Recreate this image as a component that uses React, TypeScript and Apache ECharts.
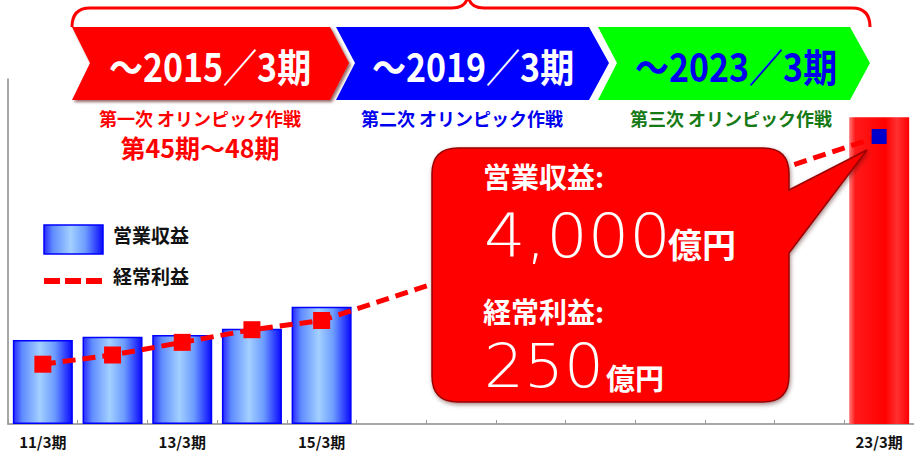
import React, { useEffect, useRef } from "react";
import * as echarts from "echarts";

// ---- data ----
const categories = [
  "11/3期", "12/3期", "13/3期", "14/3期", "15/3期", "16/3期", "17/3期",
  "18/3期", "19/3期", "20/3期", "21/3期", "22/3期", "23/3期",
];
const shownLabels = ["11/3期", "13/3期", "15/3期", "23/3期"];
// 営業収益 (億円)
const revenue: (number | null)[] = [1096, 1139, 1161, 1243, 1530, null, null, null, null, null, null, null, 4000];
// 経常利益 (億円)
const ordinaryProfit: (number | null)[] = [52, 60, 71, 82, 90, null, null, null, null, null, null, null, 250];
const seriesNames = ["営業収益", "経常利益"];
const periodTitles = ["～2015／3期", "～2019／3期", "～2023／3期"];
const periodSubtitles = ["第一次 オリンピック作戦", "第二次 オリンピック作戦", "第三次 オリンピック作戦"];
const firstPeriodNote = "第45期～48期";
const calloutRevenueLabel = "営業収益:";
const calloutRevenueValue = "4,000";
const calloutProfitLabel = "経常利益:";
const calloutProfitValue = "250";
const unitLabel = "億円";

const CJK = '"Noto Sans CJK JP", "Noto Sans", sans-serif';

let shapesRegistered = false;
function registerShapes() {
  if (shapesRegistered) return;
  shapesRegistered = true;
  const x0 = 432, y0 = 148, x1 = 789, y1 = 402, r = 26;
  const callout =
    `M ${x0 + r} ${y0} L ${x1 - r} ${y0} Q ${x1} ${y0} ${x1} ${y0 + r} L ${x1} 190 L 867 150 L ${x1} 253 ` +
    `L ${x1} ${y1 - r} Q ${x1} ${y1} ${x1 - r} ${y1} L ${x0 + r} ${y1} Q ${x0} ${y1} ${x0} ${y1 - r} ` +
    `L ${x0} ${y0 + r} Q ${x0} ${y0} ${x0 + r} ${y0} Z`;
  echarts.graphic.registerShape("callout", echarts.graphic.extendPath(callout, {}) as any);
  const brace =
    "M 72 27 Q 72 8 90 8 L 452 8 Q 466 8 468 -4 Q 470 8 484 8 L 852 8 Q 870 8 870 27";
  echarts.graphic.registerShape("brace", echarts.graphic.extendPath(brace, {}) as any);
}

function blueGradient() {
  return new echarts.graphic.LinearGradient(0, 0, 1, 0, [
    { offset: 0, color: "#2a2aff" },
    { offset: 0.15, color: "#5f8cff" },
    { offset: 0.45, color: "#a3d0ff" },
    { offset: 0.7, color: "#6c9cff" },
    { offset: 1, color: "#0a0aff" },
  ]);
}

export default function App() {
  const ref = useRef<HTMLDivElement>(null);

  useEffect(() => {
    if (!ref.current) return;
    registerShapes();
    const chart = echarts.init(ref.current, null, { renderer: "svg" });
    const last = categories.length - 1;

    const barData = revenue.map((v, i) =>
      i === last
        ? {
            value: v,
            itemStyle: {
              color: new echarts.graphic.LinearGradient(0, 0, 1, 0, [
                { offset: 0, color: "#ff7a7a" },
                { offset: 0.1, color: "#ff1a1a" },
                { offset: 0.6, color: "#ff0000" },
                { offset: 0.8, color: "#ff3030" },
                { offset: 1, color: "#ff0000" },
              ]),
              borderWidth: 0,
            },
          }
        : v
    );
    const lineData = ordinaryProfit.map((v, i) =>
      i === last ? { value: v, symbolSize: 15, itemStyle: { color: "#0000cc" } } : v
    );

    const arrows = [
      { pts: [[72, 27], [330, 27], [349, 63], [330, 100], [72, 100], [90, 63]], fill: "#ff0000", text: "#ffffff", tx: 210, shadow: true },
      { pts: [[336, 27], [589, 27], [609, 63], [589, 100], [336, 100], [355, 63]], fill: "#0000ff", text: "#ffffff", tx: 473, shadow: false },
      { pts: [[598, 27], [850, 27], [870, 63], [850, 100], [598, 100], [617, 63]], fill: "#00ff00", text: "#0000ee", tx: 736, shadow: false },
    ];
    const subColors = ["#ff0000", "#0000ee", "#157a15"];
    const subX = [200, 462, 731];

    const graphics: any[] = [
      {
        type: "brace",
        x: 0, y: 0, z: 10,
        style: { fill: null, stroke: "#ff0000", lineWidth: 3 },
      },
    ];
    arrows.forEach((a, i) => {
      graphics.push({
        type: "polygon",
        z: 10,
        shape: { points: a.pts },
        style: a.shadow
          ? { fill: a.fill, shadowBlur: 3, shadowOffsetX: 2, shadowOffsetY: 2, shadowColor: "rgba(80,0,0,0.6)" }
          : { fill: a.fill },
      });
      graphics.push({
        type: "text",
        z: 11,
        x: a.tx, y: 65,
        scaleY: 1.15,
        style: {
          text: periodTitles[i],
          fill: a.text,
          fontSize: 34,
          fontWeight: "bold",
          fontFamily: CJK,
          textAlign: "center",
          textVerticalAlign: "middle",
          verticalAlign: "middle",
        },
      });
      graphics.push({
        type: "text",
        z: 11,
        x: subX[i], y: 118,
        style: {
          text: periodSubtitles[i],
          fill: subColors[i],
          fontSize: 18,
          fontWeight: "bold",
          fontFamily: CJK,
          textAlign: "center",
          textVerticalAlign: "middle",
          verticalAlign: "middle",
        },
      });
    });
    graphics.push({
      type: "text", z: 11, x: 200, y: 147,
      style: {
        text: firstPeriodNote, fill: "#ff0000", fontSize: 25, fontWeight: "bold", fontFamily: CJK,
        textAlign: "center", textVerticalAlign: "middle", verticalAlign: "middle",
      },
    });
    // legend
    graphics.push({
      type: "rect", z: 11,
      shape: { x: 44, y: 225, width: 59, height: 29 },
      style: { fill: blueGradient(), stroke: "#0000ff", lineWidth: 1.5 },
    });
    graphics.push({
      type: "text", z: 11, x: 113, y: 234,
      style: {
        text: seriesNames[0], fill: "#111", fontSize: 19, fontWeight: "bold", fontFamily: CJK,
        textAlign: "left", textVerticalAlign: "middle", verticalAlign: "middle",
      },
    });
    graphics.push({
      type: "line", z: 11,
      shape: { x1: 44, y1: 281, x2: 102, y2: 281 },
      style: { stroke: "#ff0000", lineWidth: 6, lineDash: [16, 5] },
    });
    graphics.push({
      type: "text", z: 11, x: 113, y: 275,
      style: {
        text: seriesNames[1], fill: "#111", fontSize: 19, fontWeight: "bold", fontFamily: CJK,
        textAlign: "left", textVerticalAlign: "middle", verticalAlign: "middle",
      },
    });
    // callout
    graphics.push({
      type: "callout", x: 0, y: 0, z: 100,
      style: {
        fill: "#ff0000", stroke: "#9a0000", lineWidth: 1.5,
        shadowBlur: 4, shadowOffsetX: 1, shadowOffsetY: 2, shadowColor: "rgba(60,0,0,0.45)",
      },
    });
    const white = "#ffffff";
    const calloutTexts = [
      { text: calloutRevenueLabel, x: 483, y: 176, size: 28, weight: "bold", family: CJK, sx: 1 },
      { text: calloutRevenueValue, x: 484, y: 236, size: 61, weight: 200, family: '"DejaVu Sans", sans-serif', sx: 1.07 },
      { text: unitLabel, x: 668, y: 243, size: 34, weight: "bold", family: CJK, sx: 1 },
      { text: calloutProfitLabel, x: 483, y: 311, size: 28, weight: "bold", family: CJK, sx: 1 },
      { text: calloutProfitValue, x: 484, y: 366, size: 61, weight: 200, family: '"DejaVu Sans", sans-serif', sx: 1.03 },
      { text: unitLabel, x: 606, y: 377, size: 29, weight: "bold", family: CJK, sx: 1 },
    ];
    calloutTexts.forEach((t) =>
      graphics.push({
        type: "text", z: 101, x: t.x, y: t.y, scaleX: t.sx,
        style: {
          text: t.text, fill: white, fontSize: t.size, fontWeight: t.weight, fontFamily: t.family,
          textAlign: "left", textVerticalAlign: "middle", verticalAlign: "middle",
        },
      })
    );

    chart.setOption({
      animation: false,
      backgroundColor: "#ffffff",
      grid: { left: 8, top: 79, width: 914, height: 345, containLabel: false },
      xAxis: {
        type: "category",
        data: categories,
        boundaryGap: true,
        axisLine: { show: true, lineStyle: { color: "#8a8a8a", width: 1.5 } },
        axisTick: { show: true, inside: true, length: 4, lineStyle: { color: "#9a9a9a" } },
        axisLabel: {
          interval: 0,
          margin: 9,
          color: "#111",
          fontSize: 15,
          lineHeight: 16,
          fontWeight: "bold",
          fontFamily: CJK,
          formatter: (v: string) => (shownLabels.includes(v) ? v : ""),
        },
      },
      yAxis: [
        {
          type: "value", min: 0, max: 4500,
          axisLine: { show: true, lineStyle: { color: "#8a8a8a", width: 1.5 } },
          axisTick: { show: false }, axisLabel: { show: false }, splitLine: { show: false },
        },
        { type: "value", min: 0, max: 300, show: false, splitLine: { show: false } },
      ],
      series: [
        {
          name: seriesNames[0],
          type: "bar",
          data: barData,
          barWidth: 60,
          itemStyle: { color: blueGradient(), borderColor: "#0000ff", borderWidth: 1.5 },
        },
        {
          name: seriesNames[1],
          type: "line",
          yAxisIndex: 1,
          data: lineData,
          connectNulls: true,
          symbol: "rect",
          symbolSize: 17,
          itemStyle: { color: "#ff0000" },
          lineStyle: { color: "#ff0000", width: 5, type: [13, 7] },
          z: 3,
        },
      ],
      graphic: { elements: graphics },
    });
    return () => chart.dispose();
  }, []);

  return (
    <div
      ref={ref}
      style={{ position: "absolute", left: 0, top: 0, width: 914, height: 453 }}
    />
  );
}
